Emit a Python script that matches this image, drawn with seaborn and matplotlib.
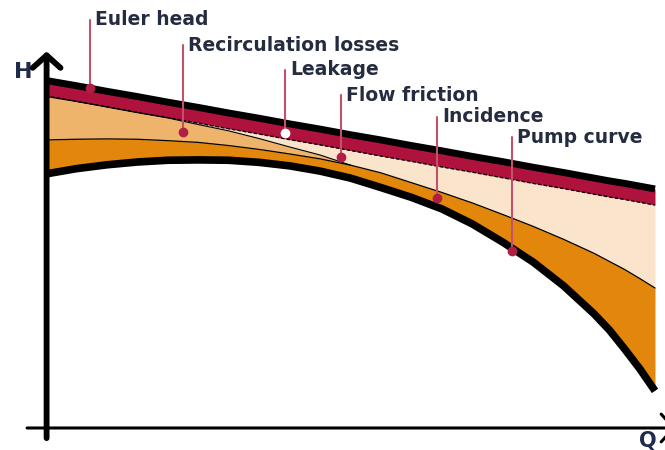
import matplotlib

matplotlib.use("Agg")
import matplotlib.pyplot as plt
import pandas as pd
import seaborn as sns

sns.set_style("white")
plt.rcParams["font.family"] = ["DejaVu Sans"]

# --- data (arbitrary units) ---
flow = [0, 5, 10, 15, 20, 25, 30, 35, 40, 45, 50,
        55, 60, 65, 70, 75, 80, 85, 90, 92.5, 95, 97.5, 100]

euler_head = [99.3, 97.8, 96.2, 94.7, 93.1, 91.6, 90.0, 88.5, 86.9, 85.4, 83.8,
              82.3, 80.7, 79.2, 77.6, 76.1, 74.5, 73.0, 71.4, 70.6, 69.9, 69.1, 68.3]
after_slip = [94.9, 93.3, 91.8, 90.2, 88.7, 87.1, 85.5, 84.0, 82.4, 80.9, 79.3,
              77.7, 76.2, 74.6, 73.1, 71.5, 69.9, 68.4, 66.8, 66.0, 65.3, 64.5, 63.7]
# leakage line only exists until it meets the friction line
after_leakage = [94.7, 93.3, 91.7, 90.1, 88.6, 86.7, 84.9, 82.7, 80.3, 78.0, 75.1]
after_friction = [82.3, 82.5, 82.6, 82.5, 82.1, 81.6, 80.7, 79.6, 78.3, 76.9, 75.1,
                  72.9, 70.1, 67.3, 64.3, 61.0, 57.6, 53.9, 49.9, 47.6, 45.3, 42.7, 40.0]
pump_curve = [72.6, 74.1, 75.2, 76.0, 76.5, 76.6, 76.5, 75.9, 74.9, 73.4, 71.4,
              68.7, 65.9, 62.6, 58.3, 53.1, 47.4, 40.6, 32.6, 28.0, 22.6, 16.9, 10.6]

# label, dot position (Q, H), top of leader (H)
label_names = ["Euler head", "Recirculation losses", "Leakage",
               "Flow friction", "Incidence", "Pump curve"]
label_dot_q = [7.2, 22.5, 39.2, 48.4, 64.2, 76.5]
label_dot_h = [97.1, 84.6, 84.3, 77.4, 65.7, 50.6]
label_top_h = [116.6, 109.4, 102.3, 95.1, 88.9, 83.1]

COLORS = {
    "red": "#B0123E",
    "peach": "#FAE5CC",
    "tan": "#EFB46C",
    "orange": "#E2870C",
    "text": "#262C40",
    "leader": "#C4506C",
    "dot": "#B01E45",
}

df = pd.DataFrame({"Q": flow, "euler": euler_head, "slip": after_slip,
                   "friction": after_friction, "pump": pump_curve})
n_leak = len(after_leakage)

fig = plt.figure(figsize=(6.65, 4.5), dpi=100)
ax = fig.add_axes([0, 0, 1, 1])
ax.set_xlim(-7.55, 101.64)
ax.set_ylim(-6.29, 122.29)
ax.set_axis_off()

# stacked loss bands
ax.fill_between(df.Q, df.slip, df.friction, color=COLORS["peach"], lw=0, zorder=1)
ax.fill_between(df.Q[:n_leak], after_leakage, df.friction[:n_leak],
                where=[a >= b for a, b in zip(after_leakage, after_friction)],
                interpolate=True, color=COLORS["tan"], lw=0, zorder=2)
ax.fill_between(df.Q, df.friction, df.pump, color=COLORS["orange"], lw=0, zorder=2)
ax.fill_between(df.Q, df.euler, df.slip, color=COLORS["red"], lw=0, zorder=3)

# thin boundaries
ax.plot(df.Q[:n_leak], after_leakage, color="black", lw=0.8, zorder=4)
ax.plot(df.Q, df.friction, color="black", lw=0.9, zorder=4)
ax.plot(df.Q, df.slip, color="black", lw=1.0, ls=(0, (2.5, 1.5)), zorder=4)

# thick Euler head and pump curve
sns.lineplot(data=df, x="Q", y="euler", ax=ax, color="black", lw=5,
             solid_capstyle="butt", solid_joinstyle="round", zorder=5)
sns.lineplot(data=df, x="Q", y="pump", ax=ax, color="black", lw=5.5,
             solid_capstyle="butt", solid_joinstyle="round", zorder=5)

# axes with arrows
ax.annotate("", xy=(0.1, 107.6), xytext=(0.1, -2.9), annotation_clip=False,
            arrowprops=dict(arrowstyle="->,head_length=0.45,head_width=0.5",
                            lw=4.2, color="black", mutation_scale=20,
                            shrinkA=0, shrinkB=0), zorder=6)
ax.annotate("", xy=(103.4, 0), xytext=(-3.1, 0), annotation_clip=False,
            arrowprops=dict(arrowstyle="->,head_length=0.45,head_width=0.5",
                            lw=2.2, color="black", mutation_scale=20,
                            shrinkA=0, shrinkB=0), zorder=6)
ax.text(-3.8, 101.6, "H", fontsize=16, fontweight="bold",
        color="#1F2B4D", ha="center", va="center")
ax.text(98.8, -3.6, "Q", fontsize=15, fontweight="bold",
        color="#1F2B4D", ha="center", va="center")

# labels with leaders
for name, qx, hy, top in zip(label_names, label_dot_q, label_dot_h, label_top_h):
    ax.plot([qx, qx], [hy, top], color=COLORS["leader"], lw=1.5, zorder=7)
    face = "white" if name == "Leakage" else COLORS["dot"]
    ax.plot(qx, hy, "o", ms=6, mfc=face, mec=face, zorder=8)
    ax.text(qx + 0.9, top, name, fontsize=13.5, fontweight="bold",
            color=COLORS["text"], ha="left", va="center", zorder=8)

fig.savefig("out.png", dpi=100)
plt.close(fig)
